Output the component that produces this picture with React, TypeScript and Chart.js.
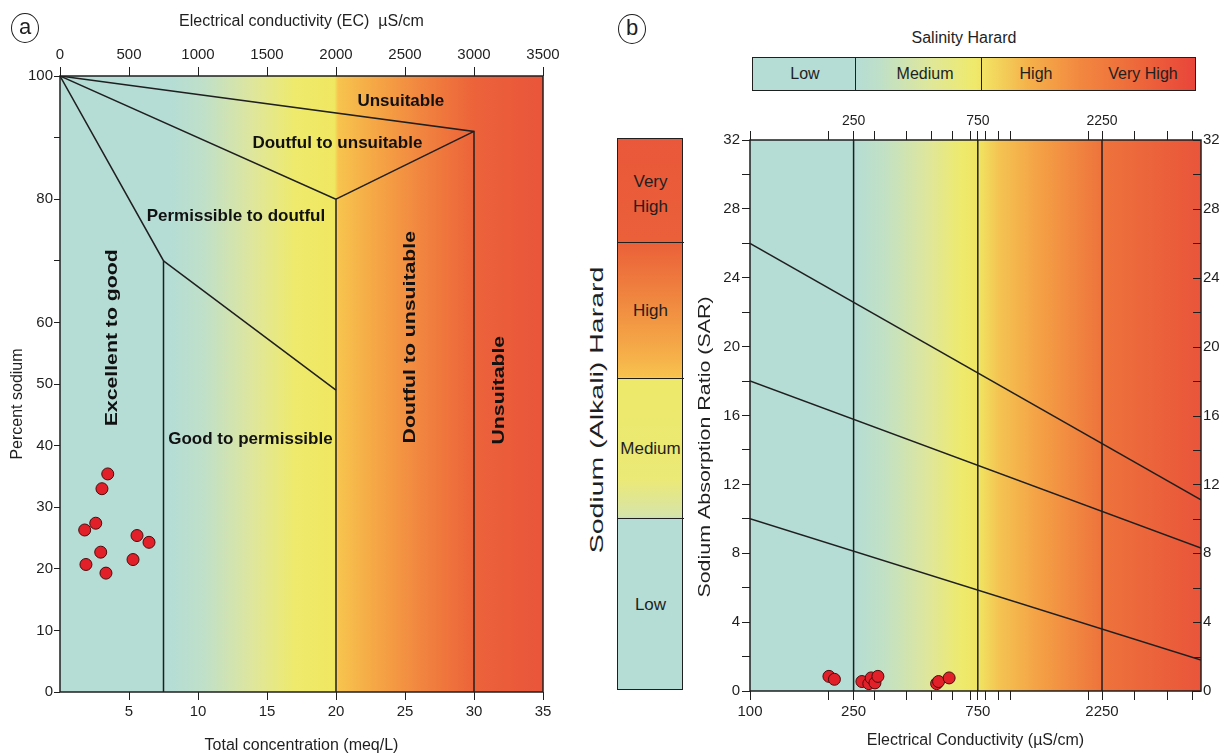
import React, { useEffect, useRef } from 'react';
import { Chart, registerables } from 'chart.js';

Chart.register(...registerables);

const FONT = "'Liberation Sans', Arial, Helvetica, sans-serif";
const INK = '#1f1f1f';
Chart.defaults.font.family = FONT;

// ================= Panel (a): Wilcox diagram data =================
const concTickValues = [5, 10, 15, 20, 25, 30, 35];
const ecTopTickValues = [0, 500, 1000, 1500, 2000, 2500, 3000, 3500];
const percentTickValues = [0, 10, 20, 30, 40, 50, 60, 70, 80, 90, 100];
const percentLabelValues = [0, 10, 20, 30, 40, 50, 60, 80, 100];

const sampleConc = [3.46, 3.04, 2.59, 1.79, 5.58, 6.45, 2.95, 5.29, 1.88, 3.33];
const samplePercentNa = [35.4, 33.0, 27.4, 26.3, 25.4, 24.3, 22.7, 21.5, 20.7, 19.3];

const excellentGoodBoundary = [{ x: 0, y: 100 }, { x: 7.5, y: 70 }, { x: 7.5, y: 0 }];
const goodPermissibleBoundary = [{ x: 7.5, y: 70 }, { x: 20, y: 49 }];
const permissibleDoubtfulBoundary = [{ x: 0, y: 100 }, { x: 20, y: 80 }, { x: 20, y: 0 }];
const doubtfulUpperBoundary = [{ x: 20, y: 80 }, { x: 30, y: 91 }];
const unsuitableBoundary = [{ x: 0, y: 100 }, { x: 30, y: 91 }, { x: 30, y: 0 }];

const wilcoxZoneText = ['Unsuitable', 'Doutful to unsuitable', 'Permissible to doutful', 'Excellent to good', 'Good to permissible', 'Doutful to unsuitable', 'Unsuitable'];
const wilcoxZoneConc = [24.7, 20.1, 12.75, 3.77, 13.8, 25.4, 31.8];
const wilcoxZonePct = [95.9, 89.1, 77.3, 57.5, 41.1, 57.6, 49];
const wilcoxZoneVertical = [false, false, false, true, false, true, true];

// ================= Panel (b): USSL diagram data =================
const EC_MIN = 100;
const EC_MAX = 5400;
const ecTickValues = [100, 200, 250, 300, 400, 500, 600, 700, 750, 800, 900, 1000, 2000, 2250, 3000, 4000, 5000];
const ecBottomLabels = [100, 250, 750, 2250];
const ecTopLabels = [250, 750, 2250];
const sarTickValues = [0, 2, 4, 6, 8, 10, 12, 14, 16, 18, 20, 22, 24, 26, 28, 30, 32];
const sarLabelValues = [0, 4, 8, 12, 16, 20, 24, 28, 32];

const sampleEC = [201, 211, 269, 286, 292, 302, 310, 521, 530, 582];
const sampleSAR = [0.85, 0.68, 0.55, 0.43, 0.76, 0.47, 0.85, 0.43, 0.55, 0.76];

const salinityClassLimits = [250, 750, 2250];
const sodiumClassSARAtMinEC = [10, 18, 26];
const sodiumClassSARAtMaxEC = [1.8, 8.3, 11.1];

const salinityHazardLabels = ['Low', 'Medium', 'High', 'Very High'];
const sodiumHazardLabels = ['Very\nHigh', 'High', 'Medium', 'Low'];

// ================= styles =================
const TEAL = '#b5ddd5';
const wilcoxBgStops: [number, string][] = [
  [0, TEAL], [8, TEAL], [10.5, '#c0e0c8'], [14, '#dfe69c'], [17, '#eeea6c'], [19.9, '#f0e761'],
  [20.15, '#f7c44e'], [23, '#f5a545'], [27, '#f07d3e'], [30, '#ec633a'], [35, '#e9553a'],
];
const usslBgStops: [number, string][] = [
  [100, TEAL], [250, TEAL], [330, '#c2e1c4'], [480, '#dee69c'], [650, '#eeea6c'], [760, '#f0e462'],
  [900, '#f4c452'], [1300, '#f4a045'], [2250, '#ee733c'], [5400, '#e9553a'],
];

const bgPlugin = (stops: [number, string][], scaleId: string) => ({
  id: 'bgGradient',
  beforeDraw(chart: any) {
    const { ctx, chartArea: a } = chart;
    const s = chart.scales[scaleId];
    const g = ctx.createLinearGradient(a.left, 0, a.right, 0);
    stops.forEach(([v, c]) => {
      const t = (s.getPixelForValue(v) - a.left) / (a.right - a.left);
      g.addColorStop(Math.min(1, Math.max(0, t)), c);
    });
    ctx.save();
    ctx.fillStyle = g;
    ctx.fillRect(a.left, a.top, a.right - a.left, a.bottom - a.top);
    ctx.restore();
  },
});

const framePlugin = {
  id: 'frame',
  beforeDatasetsDraw(chart: any) {
    const { ctx, chartArea: a } = chart;
    ctx.save();
    ctx.strokeStyle = INK;
    ctx.lineWidth = 1.5;
    ctx.strokeRect(a.left, a.top, a.right - a.left, a.bottom - a.top);
    ctx.restore();
  },
};

const verticalTitlePlugin = (text: string, x: number, y: number, size: number, stretch: number) => ({
  id: 'vTitle',
  afterDraw(chart: any) {
    const { ctx } = chart;
    ctx.save();
    ctx.translate(x, y);
    ctx.rotate(-Math.PI / 2);
    ctx.scale(stretch, 1);
    ctx.font = `${size}px ${FONT}`;
    ctx.fillStyle = INK;
    ctx.textAlign = 'center';
    ctx.textBaseline = 'middle';
    ctx.fillText(text, 0, 0);
    ctx.restore();
  },
});

const zoneLabelPlugin = {
  id: 'zoneLabels',
  afterDatasetsDraw(chart: any) {
    const { ctx } = chart;
    const xs = chart.scales.x;
    const ys = chart.scales.y;
    ctx.save();
    ctx.font = `bold 17px ${FONT}`;
    ctx.fillStyle = '#111';
    ctx.textAlign = 'center';
    ctx.textBaseline = 'middle';
    wilcoxZoneText.forEach((t, i) => {
      const px = xs.getPixelForValue(wilcoxZoneConc[i]);
      const py = ys.getPixelForValue(wilcoxZonePct[i]);
      ctx.save();
      ctx.translate(px, py);
      if (wilcoxZoneVertical[i]) {
        ctx.rotate(-Math.PI / 2);
        ctx.scale(1.25, 1);
      }
      ctx.fillText(t, 0, 0);
      ctx.restore();
    });
    ctx.restore();
  },
};

const innerRightTicksPlugin = {
  id: 'innerTicks',
  afterDatasetsDraw(chart: any) {
    const { ctx, chartArea: a } = chart;
    const s = chart.scales.y2;
    ctx.save();
    ctx.strokeStyle = INK;
    ctx.lineWidth = 1;
    s.ticks.forEach((t: any) => {
      const py = Math.round(s.getPixelForValue(t.value)) + 0.5;
      ctx.beginPath();
      ctx.moveTo(a.right - 8, py);
      ctx.lineTo(a.right, py);
      ctx.stroke();
    });
    ctx.restore();
  },
};

const lineDs = (data: any[]) => ({
  type: 'scatter',
  data,
  showLine: true,
  borderColor: INK,
  borderWidth: 1.5,
  pointRadius: 0,
  fill: false,
  tension: 0,
});

const dotDs = (data: any[]) => ({
  type: 'scatter',
  data,
  showLine: false,
  pointRadius: 6,
  pointBackgroundColor: '#e2202a',
  pointBorderColor: '#4a0c0c',
  pointBorderWidth: 1,
});

const setTicks = (vals: number[]) => (s: any) => {
  s.ticks = vals.map((v) => ({ value: v }));
};

const axisGrid = (len: number, draw = true) => ({
  drawOnChartArea: false,
  drawTicks: draw,
  tickLength: len,
  color: INK,
  tickColor: INK,
  lineWidth: 1,
});

function wilcoxConfig(): any {
  return {
    type: 'scatter',
    data: {
      datasets: [
        lineDs(excellentGoodBoundary),
        lineDs(goodPermissibleBoundary),
        lineDs(permissibleDoubtfulBoundary),
        lineDs(doubtfulUpperBoundary),
        lineDs(unsuitableBoundary),
        dotDs(sampleConc.map((c, i) => ({ x: c, y: samplePercentNa[i] }))),
      ],
    },
    options: {
      animation: false,
      responsive: false,
      devicePixelRatio: 1,
      layout: { padding: { left: 0, right: 27, top: 0, bottom: 0 } },
      plugins: { legend: { display: false }, tooltip: { enabled: false } },
      scales: {
        x: {
          type: 'linear', position: 'bottom', min: 0, max: 35,
          afterBuildTicks: setTicks(concTickValues),
          afterFit: (s: any) => { s.height = 61; },
          grid: axisGrid(8), border: { display: false },
          ticks: { font: { size: 15 }, color: INK, padding: 3, maxRotation: 0, autoSkip: false, callback: (v: any) => String(v) },
          title: { display: true, text: 'Total concentration (meq/L)', color: INK, font: { size: 16 }, padding: { top: 0, bottom: -2 } },
        },
        x2: {
          type: 'linear', position: 'top', min: 0, max: 3500,
          afterBuildTicks: setTicks(ecTopTickValues),
          afterFit: (s: any) => { s.height = 76; },
          grid: axisGrid(9), border: { display: false },
          ticks: { font: { size: 15 }, color: INK, padding: 3, maxRotation: 0, autoSkip: false, callback: (v: any) => String(v) },
          title: { display: true, text: 'Electrical conductivity (EC)  µS/cm', color: INK, font: { size: 16 }, padding: { top: 12, bottom: 0 } },
        },
        y: {
          type: 'linear', position: 'left', min: 0, max: 100,
          afterBuildTicks: setTicks(percentTickValues),
          afterFit: (s: any) => { s.width = 60; },
          grid: axisGrid(6), border: { display: false },
          ticks: {
            font: { size: 15 }, color: INK, padding: 1, autoSkip: false,
            callback: (v: any) => (percentLabelValues.includes(v) ? String(v) : ''),
          },
        },
      },
    },
    plugins: [bgPlugin(wilcoxBgStops, 'x'), framePlugin, zoneLabelPlugin, verticalTitlePlugin('Percent sodium', 18, 404, 16, 1)],
  };
}

function usslConfig(): any {
  const sodiumLines = sodiumClassSARAtMinEC.map((lo, i) =>
    lineDs([{ x: EC_MIN, y: lo }, { x: EC_MAX, y: sodiumClassSARAtMaxEC[i] }]),
  );
  const salinityLines = salinityClassLimits.map((ec) => lineDs([{ x: ec, y: 0 }, { x: ec, y: 32 }]));
  return {
    type: 'scatter',
    data: {
      datasets: [
        ...salinityLines,
        ...sodiumLines,
        dotDs(sampleEC.map((e, i) => ({ x: e, y: sampleSAR[i] }))),
      ],
    },
    options: {
      animation: false,
      responsive: false,
      devicePixelRatio: 1,
      layout: { padding: 0 },
      plugins: { legend: { display: false }, tooltip: { enabled: false } },
      scales: {
        x: {
          type: 'logarithmic', position: 'bottom', min: EC_MIN, max: EC_MAX, bounds: 'data',
          afterBuildTicks: setTicks(ecTickValues),
          afterFit: (s: any) => { s.height = 62; },
          grid: axisGrid(9), border: { display: false },
          ticks: {
            font: { size: 15 }, color: INK, padding: 3, maxRotation: 0, autoSkip: false,
            callback: (v: any) => (ecBottomLabels.includes(v) ? String(v) : ''),
          },
          title: { display: true, text: 'Electrical Conductivity (µS/cm)', color: INK, font: { size: 16 }, padding: { top: 0, bottom: 3 } },
        },
        x2: {
          type: 'logarithmic', position: 'top', min: EC_MIN, max: EC_MAX, bounds: 'data',
          afterBuildTicks: setTicks(ecTickValues),
          afterFit: (s: any) => { s.height = 40; },
          grid: axisGrid(9), border: { display: false },
          ticks: {
            font: { size: 14 }, color: INK, padding: 1, maxRotation: 0, autoSkip: false,
            callback: (v: any) => (ecTopLabels.includes(v) ? String(v) : ''),
          },
        },
        y: {
          type: 'linear', position: 'left', min: 0, max: 32,
          afterBuildTicks: setTicks(sarTickValues),
          afterFit: (s: any) => { s.width = 60; },
          grid: axisGrid(8), border: { display: false },
          ticks: {
            font: { size: 15 }, color: INK, padding: 2, autoSkip: false,
            callback: (v: any) => (sarLabelValues.includes(v) ? String(v) : ''),
          },
        },
        y2: {
          type: 'linear', position: 'right', min: 0, max: 32,
          afterBuildTicks: setTicks(sarTickValues),
          afterFit: (s: any) => { s.width = 19; },
          grid: axisGrid(0, false), border: { display: false },
          ticks: {
            font: { size: 15 }, color: INK, padding: 2, autoSkip: false,
            callback: (v: any) => (sarLabelValues.includes(v) ? String(v) : ''),
          },
        },
      },
    },
    plugins: [bgPlugin(usslBgStops, 'x'), framePlugin, innerRightTicksPlugin, verticalTitlePlugin('Sodium Absorption Ratio (SAR)', 15, 347, 17, 1.26)],
  };
}

const abs = (o: any): React.CSSProperties => ({ position: 'absolute', ...o });

function Circled({ letter, cx, cy }: { letter: string; cx: number; cy: number }) {
  return (
    <div
      style={abs({
        left: cx - 14, top: cy - 14, width: 26, height: 26, border: `1.5px solid ${INK}`, borderRadius: '50%',
        display: 'flex', alignItems: 'center', justifyContent: 'center', fontSize: 22, lineHeight: '22px', paddingBottom: 2, boxSizing: 'content-box',
      })}
    >
      {letter}
    </div>
  );
}

export default function App() {
  const leftRef = useRef<HTMLCanvasElement>(null);
  const rightRef = useRef<HTMLCanvasElement>(null);

  useEffect(() => {
    const c1 = new Chart(leftRef.current as HTMLCanvasElement, wilcoxConfig());
    const c2 = new Chart(rightRef.current as HTMLCanvasElement, usslConfig());
    return () => {
      c1.destroy();
      c2.destroy();
    };
  }, []);

  // Sodium hazard bar segment edges (px, top->bottom) and salinity bar label centres (px)
  const sodiumEdges = [138, 242, 378, 518, 690];
  const sodiumPadTop = [8, 0, 0, 0];
  const salinityCenters = [805, 925, 1036, 1143];

  return (
    <div style={abs({ left: 0, top: 0, width: 1220, height: 753, background: '#fff', overflow: 'hidden', fontFamily: FONT, color: INK })}>
      <canvas ref={leftRef} width={570} height={753} style={abs({ left: 0, top: 0, width: 570, height: 753 })} />
      <canvas ref={rightRef} width={530} height={653} style={abs({ left: 690, top: 100, width: 530, height: 653 })} />

      <Circled letter="a" cx={25} cy={27} />
      <Circled letter="b" cx={632} cy={28} />

      {/* Sodium (alkali) hazard bar */}
      <div
        style={abs({
          left: 617, top: 138, width: 64, height: 550, border: `1.5px solid ${INK}`,
          background:
            'linear-gradient(to bottom, #e9583a 0%, #eb6039 18.8%, #f08a40 30%, #f6b24a 40%, #f7c24e 43.2%, #eee96a 43.8%, #ebe977 62%, #d6e4a8 68.5%, #b5ddd5 69.2%, #b5ddd5 100%)',
        })}
      />
      {sodiumHazardLabels.map((t, i) => (
        <div
          key={'s' + i}
          style={abs({
            left: 617, top: sodiumEdges[i], width: 67, height: sodiumEdges[i + 1] - sodiumEdges[i],
            borderTop: i > 0 ? `1.5px solid ${INK}` : 'none', boxSizing: 'border-box', paddingTop: sodiumPadTop[i],
            display: 'flex', alignItems: 'center', justifyContent: 'center', textAlign: 'center',
            fontSize: 17, lineHeight: '25px', whiteSpace: 'pre',
          })}
        >
          {t}
        </div>
      ))}
      <div style={abs({ left: 597, top: 410, transform: 'translate(-50%, -50%) rotate(-90deg) scaleX(1.5)', whiteSpace: 'nowrap', fontSize: 19 })}>
        Sodium (Alkali) Harard
      </div>

      {/* Salinity hazard bar */}
      <div style={abs({ left: 964, top: 38, transform: 'translate(-50%, -50%)', whiteSpace: 'nowrap', fontSize: 16 })}>Salinity Harard</div>
      <div
        style={abs({
          left: 752, top: 57, width: 442, height: 32, border: `1.5px solid ${INK}`,
          background:
            'linear-gradient(to right, #b5ddd5 0%, #b5ddd5 23.2%, #bfe0c8 28.8%, #dfe79a 40%, #efea6c 50%, #f2dc60 53.6%, #f5b04a 62.6%, #f28840 73.9%, #ee6d3b 85%, #e9453a 100%)',
        })}
      />
      <div style={abs({ left: 855, top: 57, width: 0, height: 34, borderLeft: `1.5px solid ${INK}` })} />
      <div style={abs({ left: 981, top: 57, width: 0, height: 34, borderLeft: `1.5px solid ${INK}` })} />
      {salinityHazardLabels.map((t, i) => (
        <div key={'h' + i} style={abs({ left: salinityCenters[i], top: 74, transform: 'translate(-50%, -50%)', whiteSpace: 'nowrap', fontSize: 16 })}>
          {t}
        </div>
      ))}
    </div>
  );
}
